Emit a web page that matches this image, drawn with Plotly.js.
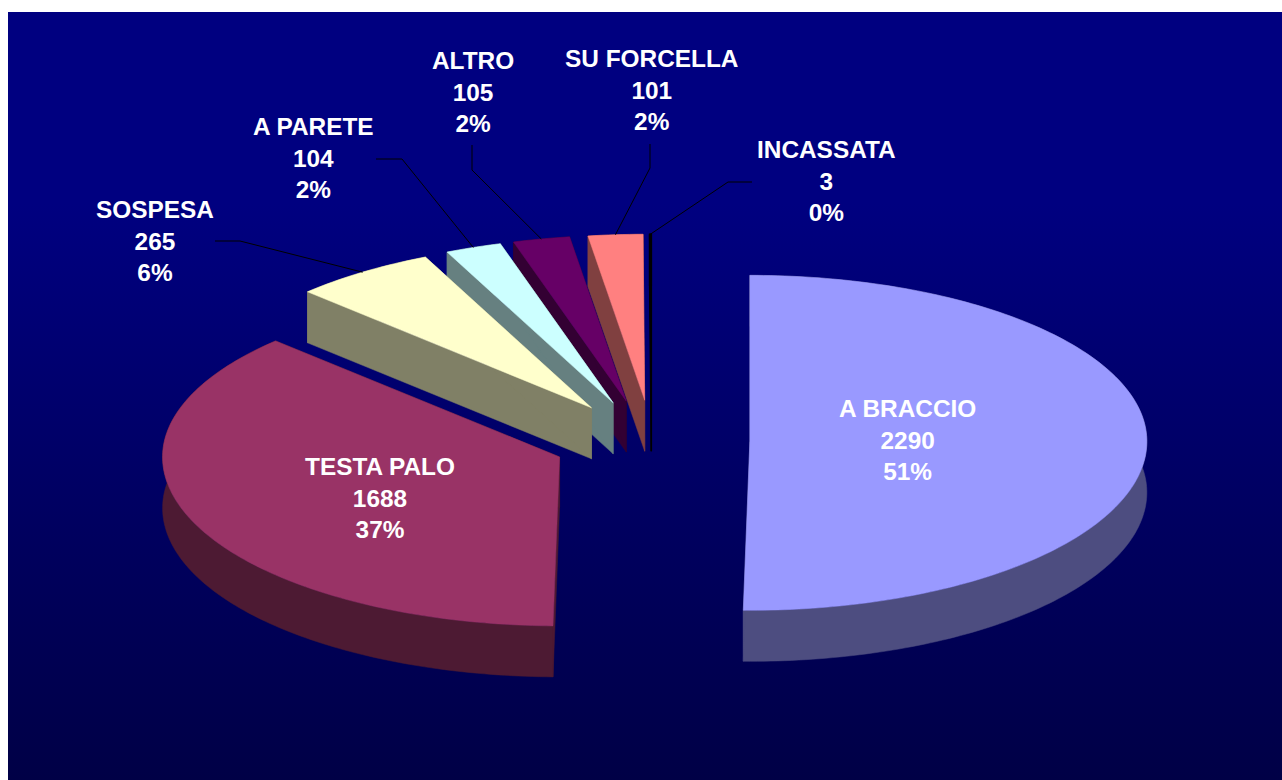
<!DOCTYPE html>
<html>
<head>
<meta charset="utf-8">
<script src="https://cdn.plot.ly/plotly-3.0.1.min.js"></script>
<style>
html,body{margin:0;padding:0;background:#fff;width:1282px;height:780px;overflow:hidden}
#bg{position:absolute;left:8px;top:12px;width:1274px;height:768px;background:linear-gradient(180deg,#000080 0%,#000080 25%,#000046 100%)}
#chart{position:absolute;left:0;top:0;width:1282px;height:780px}
</style>
</head>
<body>
<div id="bg"></div>
<div id="chart"></div>
<script>
// Data
const categories = ["A BRACCIO","TESTA PALO","SOSPESA","A PARETE","ALTRO","SU FORCELLA","INCASSATA"];
const values     = [2290,1688,265,104,105,101,3];
const percents   = ["51%","37%","6%","2%","2%","2%","0%"];

// Styles
const topColors  = ["#9999FF","#993366","#FFFFCC","#CCFFFF","#660066","#FF8080","#000000"];
const sideColors = ["#4D4D80","#4D1A33","#808066","#668080","#330033","#804040","#000000"];
const edgeWidths = [0.5,0.5,0.5,0.5,0.5,0.5,1.5];

// Label and leader placement (axis units = pixels of the picture)
const labelX = [907,380,154.5,313,472.5,651,826];
const labelY = [439.5,497.5,240.5,158,91.5,90,181];
const leaderX = [null,null,[215,240],[376,402],[472,472],[650,650],[752,728]];
const leaderY = [null,null,[241,241],[159,159],[145,170],[144,168],[182,182]];
// Small placement corrections per slice
const nudgeX = [0,0,-2.5,-3,-3.5,1,0.5];
const nudgeY = [0,0,1,1,1,1,1];

// Tilted pie geometry
const cx=651, cy=441, rx=397, ryBack=166, ryFront=169, explode=0.249, depth=51;

const total = values.reduce((a,b)=>a+b,0);
const rad = d=>d*Math.PI/180;
const ell = t=>{const c=Math.cos(t);return [rx*Math.sin(t), -(c>0?ryBack:ryFront)*c];};

let a0=0;
const wedges = values.map((v,i)=>{
  const sweep = v/total*2*Math.PI, start=a0, end=a0+sweep; a0=end;
  const mid=(start+end)/2;
  const ax=cx+nudgeX[i]+explode*rx*Math.sin(mid), ay=cy+nudgeY[i]-explode*168*Math.cos(mid);
  const n=Math.max(2,Math.ceil(sweep/rad(1)));
  const rimX=[],rimY=[];
  for(let k=0;k<=n;k++){const p=ell(start+sweep*k/n);rimX.push(ax+p[0]);rimY.push(ay+p[1]);}
  const m=ell(mid);
  return {i,ax,ay,rimX,rimY,midX:ax+m[0],midY:ay+m[1]};
});

const traces=[];
function poly(x,y,color,w){
  traces.push({type:"scatter",x:x.concat([x[0]]),y:y.concat([y[0]]),mode:"lines",fill:"toself",fillcolor:color,
    line:{color,width:w,simplify:false},hoverinfo:"skip",showlegend:false});
}
// Back to front: the small back slices first, then the two large ones
for(let i=values.length-1;i>=0;i--){
  const W=wedges[i], L=W.rimX.length-1;
  // outer band, then the two radial faces
  poly(W.rimX.concat(W.rimX.slice().reverse()),
       W.rimY.concat(W.rimY.slice().reverse().map(q=>q+depth)),sideColors[i],edgeWidths[i]);
  poly([W.ax,W.rimX[0],W.rimX[0],W.ax],[W.ay,W.rimY[0],W.rimY[0]+depth,W.ay+depth],sideColors[i],edgeWidths[i]);
  poly([W.ax,W.rimX[L],W.rimX[L],W.ax],[W.ay,W.rimY[L],W.rimY[L]+depth,W.ay+depth],sideColors[i],edgeWidths[i]);
  poly([W.ax].concat(W.rimX),[W.ay].concat(W.rimY),topColors[i],edgeWidths[i]);
}
// Leader lines
wedges.forEach((W,i)=>{
  if(!leaderX[i])return;
  traces.push({type:"scatter",mode:"lines",x:leaderX[i].concat([W.midX]),y:leaderY[i].concat([W.midY]),
    line:{color:"#000000",width:1},hoverinfo:"skip",showlegend:false});
});

const annotations=categories.map((c,i)=>({
  x:labelX[i],y:labelY[i],xref:"x",yref:"y",xanchor:"center",yanchor:"middle",showarrow:false,
  text:`<b>${c}<br>${values[i]}<br>${percents[i]}</b>`,align:"center",
  font:{family:"Liberation Sans, Arial, sans-serif",size:24.4,color:"#FFFFFF"}
}));

Plotly.newPlot("chart",traces,{
  width:1282,height:780,margin:{l:0,r:0,t:0,b:0,pad:0},
  paper_bgcolor:"rgba(0,0,0,0)",plot_bgcolor:"rgba(0,0,0,0)",showlegend:false,
  xaxis:{range:[0,1282],visible:false,fixedrange:true},
  yaxis:{range:[780,0],visible:false,fixedrange:true},
  annotations
},{displayModeBar:false,staticPlot:true});
</script>
</body>
</html>
